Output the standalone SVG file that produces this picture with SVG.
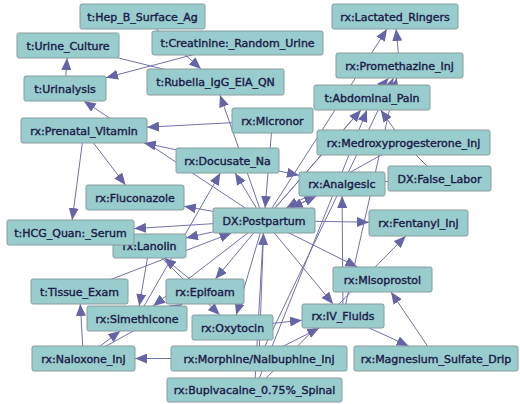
<svg xmlns="http://www.w3.org/2000/svg" width="520" height="404" viewBox="0 0 520 404">
<defs>
<style>
.e{stroke:#7070b0;stroke-width:1;fill:none}
.a{marker-end:url(#arr)}
.n rect{fill:#99cccc;stroke:#889c9c;stroke-width:1}
.n text{font-family:"DejaVu Sans",Verdana,sans-serif;font-size:11px;fill:#1c1c4a;stroke:#1c1c4a;stroke-width:0.4;text-anchor:middle}
</style>
<marker id="arr" markerWidth="12" markerHeight="10" refX="12" refY="5" orient="auto" markerUnits="userSpaceOnUse">
<path d="M0,0 L12,5 L0,10 Z" fill="#6464a6"/>
</marker>
</defs>
<rect width="520" height="404" fill="#ffffff"/>
<g id="connectors">
<line class="e a" x1="65" y1="88.5" x2="67.1" y2="58"/>
<line class="e a" x1="237.5" y1="43" x2="106" y2="77.7"/>
<line class="e a" x1="264" y1="220.5" x2="83.8" y2="101"/>
<line class="e" x1="68" y1="45.5" x2="215.5" y2="82"/>
<line class="e a" x1="142.5" y1="16.5" x2="201" y2="69"/>
<line class="e a" x1="264" y1="220.5" x2="220" y2="95"/>
<line class="e a" x1="272.5" y1="120.5" x2="147" y2="127.2"/>
<line class="e a" x1="227.5" y1="160.5" x2="143.8" y2="143"/>
<line class="e a" x1="84" y1="130.5" x2="125.5" y2="185"/>
<line class="e a" x1="84" y1="130.5" x2="72.15" y2="220"/>
<line class="e a" x1="264" y1="220.5" x2="184" y2="206.2"/>
<line class="e a" x1="264" y1="220.5" x2="134" y2="228.6"/>
<line class="e a" x1="264" y1="220.5" x2="186" y2="237.9"/>
<line class="e a" x1="79.5" y1="291.5" x2="231.5" y2="233"/>
<line class="e a" x1="137" y1="318.5" x2="220.3" y2="173"/>
<line class="e a" x1="264" y1="220.5" x2="235.1" y2="173"/>
<line class="e a" x1="272.5" y1="120.5" x2="265.06" y2="208"/>
<line class="e a" x1="227.5" y1="160.5" x2="299" y2="175.2"/>
<line class="e a" x1="264" y1="220.5" x2="316.4" y2="196"/>
<line class="e a" x1="342" y1="184" x2="290.7" y2="208"/>
<line class="e a" x1="343" y1="316" x2="342.09" y2="196"/>
<line class="e a" x1="264" y1="220.5" x2="369" y2="222.2"/>
<line class="e a" x1="254.5" y1="390" x2="405.7" y2="236"/>
<line class="e a" x1="264" y1="220.5" x2="357.4" y2="267"/>
<line class="e a" x1="264" y1="220.5" x2="333.1" y2="304"/>
<line class="e a" x1="232.5" y1="327.5" x2="302" y2="320.3"/>
<line class="e a" x1="259" y1="358.5" x2="319.3" y2="328"/>
<line class="e a" x1="149.5" y1="246" x2="219.8" y2="315"/>
<line class="e a" x1="264" y1="220.5" x2="236.2" y2="315"/>
<line class="e a" x1="264" y1="220.5" x2="215.4" y2="279"/>
<line class="e a" x1="205" y1="291.5" x2="164.1" y2="258"/>
<line class="e a" x1="264" y1="220.5" x2="153.2" y2="306"/>
<line class="e a" x1="149.5" y1="246" x2="139.2" y2="306"/>
<line class="e a" x1="83.5" y1="358.5" x2="80.25" y2="304"/>
<line class="e a" x1="83.5" y1="358.5" x2="120.3" y2="331"/>
<line class="e a" x1="83.5" y1="358.5" x2="182.3" y2="304"/>
<line class="e a" x1="259" y1="358.5" x2="135" y2="358.5"/>
<line class="e a" x1="259" y1="358.5" x2="263.5" y2="233"/>
<line class="e" x1="254.5" y1="390" x2="264" y2="220.5"/>
<line class="e a" x1="343" y1="316" x2="396.7" y2="78"/>
<line class="e a" x1="264" y1="220.5" x2="388.6" y2="78"/>
<line class="e a" x1="399.5" y1="65.5" x2="396.1" y2="29"/>
<line class="e a" x1="264" y1="220.5" x2="387" y2="29"/>
<line class="e" x1="403.5" y1="142.5" x2="439.5" y2="178.5"/>
<line class="e" x1="342" y1="184" x2="439.5" y2="178.5"/>
<line class="e a" x1="264" y1="220.5" x2="361" y2="110"/>
<line class="e a" x1="403.5" y1="142.5" x2="380.75" y2="110"/>
<line class="e a" x1="254.5" y1="390" x2="367" y2="110"/>
<line class="e a" x1="403.5" y1="142.5" x2="286.3" y2="208"/>
<line class="e a" x1="436" y1="358.5" x2="391" y2="292"/>
<line class="e a" x1="343" y1="316" x2="408.65" y2="346"/>
<line class="e a" x1="259" y1="358.5" x2="393.5" y2="78"/>
</g>
<g id="hepb" class="n"><rect x="80" y="4" width="125" height="25" rx="2"/><text x="142.5" y="20.5">t:Hep_B_Surface_Ag</text></g>
<g id="urineculture" class="n"><rect x="17" y="33" width="102" height="25" rx="2"/><text x="68" y="49.5">t:Urine_Culture</text></g>
<g id="creatinine" class="n"><rect x="152" y="31" width="171" height="24" rx="2"/><text x="237.5" y="47">t:Creatinine:_Random_Urine</text></g>
<g id="rubella" class="n"><rect x="147" y="69" width="137" height="26" rx="2"/><text x="215.5" y="86">t:Rubella_IgG_EIA_QN</text></g>
<g id="urinalysis" class="n"><rect x="24" y="76" width="82" height="25" rx="2"/><text x="65" y="92.5">t:Urinalysis</text></g>
<g id="prenatal" class="n"><rect x="21" y="118" width="126" height="25" rx="2"/><text x="84" y="134.5">rx:Prenatal_Vitamin</text></g>
<g id="micronor" class="n"><rect x="232" y="108" width="81" height="25" rx="2"/><text x="272.5" y="124.5">rx:Micronor</text></g>
<g id="lactated" class="n"><rect x="332" y="4" width="126" height="25" rx="2"/><text x="395" y="20.5">rx:Lactated_Ringers</text></g>
<g id="promethazine" class="n"><rect x="336" y="53" width="127" height="25" rx="2"/><text x="399.5" y="69.5">rx:Promethazine_Inj</text></g>
<g id="abdominal" class="n"><rect x="314" y="85" width="116" height="25" rx="2"/><text x="372" y="101.5">t:Abdominal_Pain</text></g>
<g id="medroxy" class="n"><rect x="317" y="130" width="173" height="25" rx="2"/><text x="403.5" y="146.5">rx:Medroxyprogesterone_Inj</text></g>
<g id="docusate" class="n"><rect x="176" y="148" width="103" height="25" rx="2"/><text x="227.5" y="164.5">rx:Docusate_Na</text></g>
<g id="fluconazole" class="n"><rect x="86" y="185" width="98" height="25" rx="2"/><text x="135" y="201.5">rx:Fluconazole</text></g>
<g id="lanolin" class="n"><rect x="113" y="234" width="73" height="24" rx="2"/><text x="149.5" y="250">rx:Lanolin</text></g>
<g id="hcg" class="n"><rect x="7" y="220" width="127" height="25" rx="2"/><text x="70.5" y="236.5">t:HCG_Quan:_Serum</text></g>
<g id="postpartum" class="n"><rect x="213" y="208" width="102" height="25" rx="2"/><text x="264" y="224.5">DX:Postpartum</text></g>
<g id="analgesic" class="n"><rect x="299" y="172" width="86" height="24" rx="2"/><text x="342" y="188">rx:Analgesic</text></g>
<g id="falselabor" class="n"><rect x="388" y="166" width="103" height="25" rx="2"/><text x="439.5" y="182.5">DX:False_Labor</text></g>
<g id="fentanyl" class="n"><rect x="369" y="210" width="99" height="26" rx="2"/><text x="418.5" y="227">rx:Fentanyl_Inj</text></g>
<g id="tissue" class="n"><rect x="31" y="279" width="97" height="25" rx="2"/><text x="79.5" y="295.5">t:Tissue_Exam</text></g>
<g id="simethicone" class="n"><rect x="87" y="306" width="100" height="25" rx="2"/><text x="137" y="322.5">rx:Simethicone</text></g>
<g id="epifoam" class="n"><rect x="166" y="279" width="78" height="25" rx="2"/><text x="205" y="295.5">rx:Epifoam</text></g>
<g id="oxytocin" class="n"><rect x="192" y="315" width="81" height="25" rx="2"/><text x="232.5" y="331.5">rx:Oxytocin</text></g>
<g id="naloxone" class="n"><rect x="32" y="346" width="103" height="25" rx="2"/><text x="83.5" y="362.5">rx:Naloxone_Inj</text></g>
<g id="morphine" class="n"><rect x="171" y="346" width="176" height="25" rx="2"/><text x="259" y="362.5">rx:Morphine/Nalbuphine_Inj</text></g>
<g id="bupivacaine" class="n"><rect x="167" y="378" width="175" height="24" rx="2"/><text x="254.5" y="394">rx:Bupivacaine_0.75%_Spinal</text></g>
<g id="misoprostol" class="n"><rect x="333" y="267" width="99" height="25" rx="2"/><text x="382.5" y="283.5">rx:Misoprostol</text></g>
<g id="ivfluids" class="n"><rect x="302" y="304" width="82" height="24" rx="2"/><text x="343" y="320">rx:IV_Fluids</text></g>
<g id="magnesium" class="n"><rect x="354" y="346" width="164" height="25" rx="2"/><text x="436" y="362.5">rx:Magnesium_Sulfate_Drip</text></g>
</svg>
